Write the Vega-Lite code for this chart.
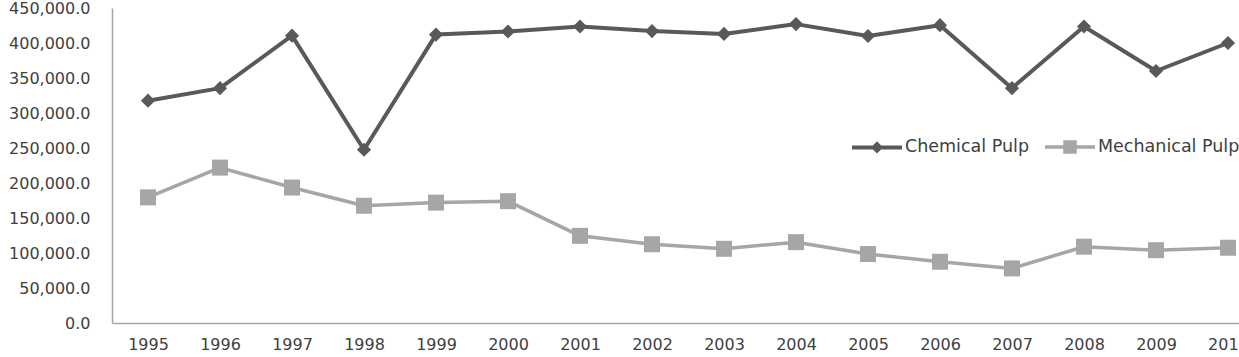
{
  "$schema": "https://vega.github.io/schema/vega-lite/v6.json",
  "width": 1127,
  "height": 315,
  "autosize": "none",
  "padding": {"left": 112, "top": 8, "right": 0, "bottom": 34},
  "background": "white",
  "config": {
    "view": {"stroke": null},
    "axis": {
      "labelFont": "DejaVu Sans",
      "labelFontSize": 16,
      "labelColor": "#404040",
      "domainColor": "#a6a6a6",
      "domainWidth": 1.5,
      "ticks": false,
      "grid": false,
      "title": null
    }
  },
  "data": {
    "values": [
      {"year": 1995, "series": "Chemical Pulp", "value": 317600},
      {"year": 1996, "series": "Chemical Pulp", "value": 335500},
      {"year": 1997, "series": "Chemical Pulp", "value": 410500},
      {"year": 1998, "series": "Chemical Pulp", "value": 247500},
      {"year": 1999, "series": "Chemical Pulp", "value": 412000},
      {"year": 2000, "series": "Chemical Pulp", "value": 416500},
      {"year": 2001, "series": "Chemical Pulp", "value": 423500},
      {"year": 2002, "series": "Chemical Pulp", "value": 417000},
      {"year": 2003, "series": "Chemical Pulp", "value": 413000},
      {"year": 2004, "series": "Chemical Pulp", "value": 427000},
      {"year": 2005, "series": "Chemical Pulp", "value": 410000},
      {"year": 2006, "series": "Chemical Pulp", "value": 425500},
      {"year": 2007, "series": "Chemical Pulp", "value": 335500},
      {"year": 2008, "series": "Chemical Pulp", "value": 423500},
      {"year": 2009, "series": "Chemical Pulp", "value": 360000},
      {"year": 2010, "series": "Chemical Pulp", "value": 400000},
      {"year": 1995, "series": "Mechanical Pulp", "value": 179500},
      {"year": 1996, "series": "Mechanical Pulp", "value": 222000},
      {"year": 1997, "series": "Mechanical Pulp", "value": 193500},
      {"year": 1998, "series": "Mechanical Pulp", "value": 167500},
      {"year": 1999, "series": "Mechanical Pulp", "value": 172000},
      {"year": 2000, "series": "Mechanical Pulp", "value": 174000},
      {"year": 2001, "series": "Mechanical Pulp", "value": 124500},
      {"year": 2002, "series": "Mechanical Pulp", "value": 112500},
      {"year": 2003, "series": "Mechanical Pulp", "value": 106000},
      {"year": 2004, "series": "Mechanical Pulp", "value": 115500},
      {"year": 2005, "series": "Mechanical Pulp", "value": 98500},
      {"year": 2006, "series": "Mechanical Pulp", "value": 87500},
      {"year": 2007, "series": "Mechanical Pulp", "value": 78000},
      {"year": 2008, "series": "Mechanical Pulp", "value": 109000},
      {"year": 2009, "series": "Mechanical Pulp", "value": 104000},
      {"year": 2010, "series": "Mechanical Pulp", "value": 107500}
    ]
  },
  "encoding": {
    "x": {
      "field": "year",
      "type": "quantitative",
      "scale": {"domain": [1994.5, 2010.153], "nice": false, "zero": false},
      "axis": {
        "values": [1995, 1996, 1997, 1998, 1999, 2000, 2001, 2002, 2003, 2004, 2005, 2006, 2007, 2008, 2009, 2010],
        "format": "d",
        "labelPadding": 13,
        "labelFlush": false,
        "labelOverlap": false
      }
    },
    "y": {
      "field": "value",
      "type": "quantitative",
      "scale": {"domain": [0, 450000], "nice": false},
      "axis": {
        "values": [0, 50000, 100000, 150000, 200000, 250000, 300000, 350000, 400000, 450000],
        "format": ",.1f",
        "labelPadding": 22,
        "labelOverlap": false
      }
    }
  },
  "layer": [
    {
      "mark": {"type": "line", "strokeJoin": "round"},
      "encoding": {
        "color": {
          "field": "series",
          "type": "nominal",
          "scale": {"domain": ["Chemical Pulp", "Mechanical Pulp"], "range": ["#595959", "#a6a6a6"]},
          "legend": {
            "orient": "none",
            "legendX": 738,
            "legendY": 112,
            "direction": "horizontal",
            "title": null,
            "symbolSize": 2500,
            "symbolStrokeWidth": 3,
            "labelFont": "DejaVu Sans",
            "labelFontSize": 17.5,
            "labelColor": "#404040",
            "labelOffset": 1,
            "columnPadding": 8,
            "encode": {
              "symbols": {
                "update": {
                  "shape": {"signal": "datum.value === 'Chemical Pulp' ? 'M-1,0L1,0M0,-0.13L0.13,0L0,0.13L-0.13,0Z' : 'M-1,0L1,0M-0.2,-0.2L0.2,-0.2L0.2,0.2L-0.2,0.2Z'"},
                  "fill": {"signal": "datum.value === 'Chemical Pulp' ? '#595959' : '#a6a6a6'"},
                  "stroke": {"signal": "datum.value === 'Chemical Pulp' ? '#595959' : '#a6a6a6'"},
                  "strokeWidth": {"value": 3},
                  "fillOpacity": {"value": 1},
                  "opacity": {"value": 1}
                }
              }
            }
          }
        },
        "strokeWidth": {
          "field": "series",
          "type": "nominal",
          "scale": {"domain": ["Chemical Pulp", "Mechanical Pulp"], "range": [4, 3.5]},
          "legend": null
        }
      }
    },
    {
      "transform": [{"filter": "datum.series === 'Chemical Pulp'"}],
      "mark": {"type": "point", "shape": "diamond", "size": 200, "filled": true, "opacity": 1, "color": "#595959"}
    },
    {
      "transform": [{"filter": "datum.series === 'Mechanical Pulp'"}],
      "mark": {"type": "point", "shape": "square", "size": 256, "filled": true, "opacity": 1, "color": "#a6a6a6"}
    }
  ]
}
